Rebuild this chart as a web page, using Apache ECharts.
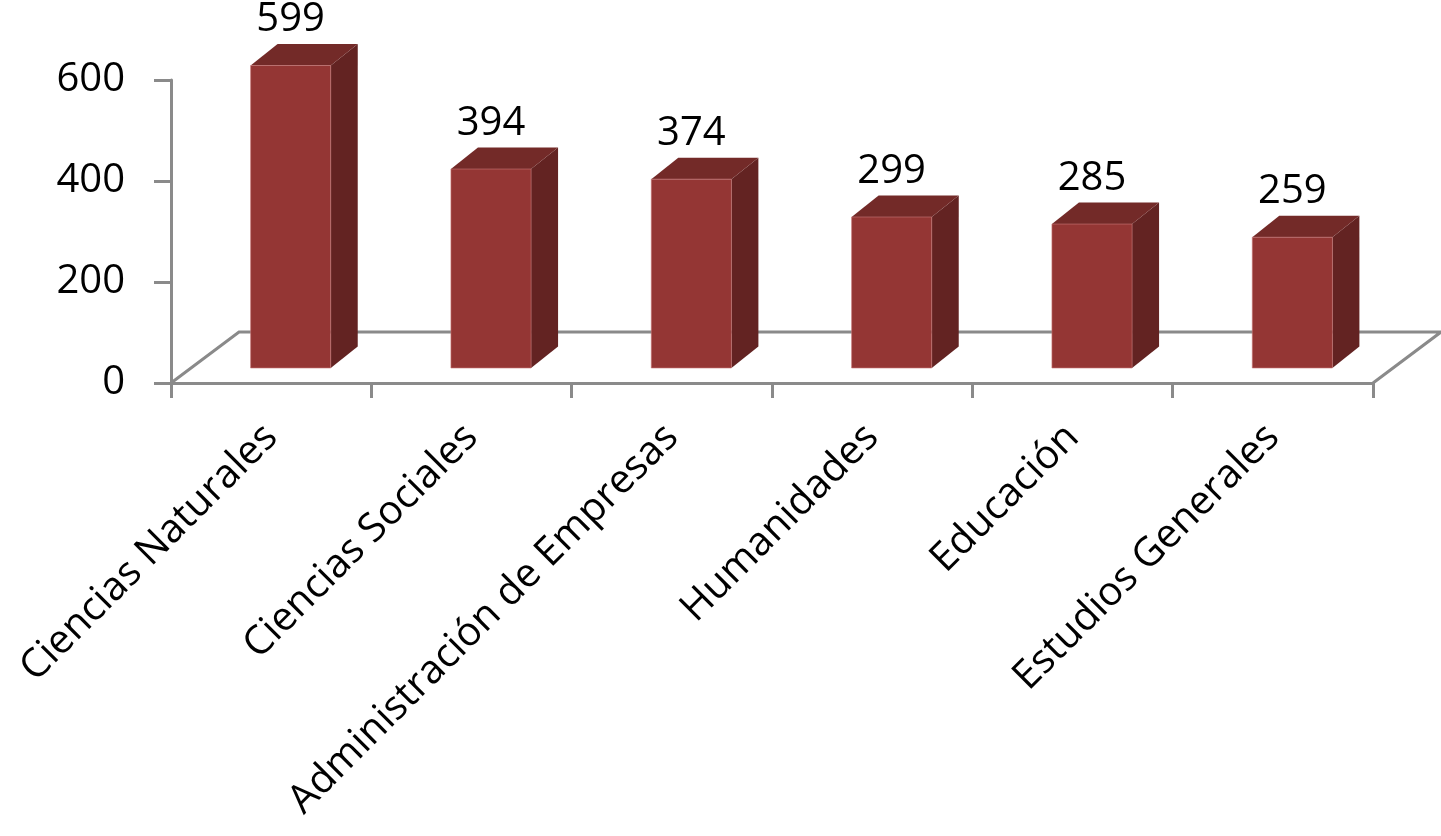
<!DOCTYPE html>
<html>
<head>
<meta charset="utf-8">
<script src="https://cdn.jsdelivr.net/npm/echarts@6/dist/echarts.min.js"></script>
<style>
html,body{margin:0;padding:0;background:#fff;}
#chart{width:1441px;height:836px;}
</style>
</head>
<body>
<div id="chart"></div>
<script>
const categories = ['Ciencias Naturales', 'Ciencias Sociales', 'Administración de Empresas', 'Humanidades', 'Educación', 'Estudios Generales'];
const values = [599, 394, 374, 299, 285, 259];
const yTicks = { min: 0, max: 600, interval: 200 };

const FONT = 'Open Sans';
const AXIS_COLOR = '#8a8a8a';
const FRONT = '#943634', TOP = '#732a28', SIDE = '#632322';
// floor depth offset (px), bar face offset inside floor, bar depth
const FLOOR_DX = 68, FLOOR_DY = -51;
const FACE_DX = 19.5, FACE_DY = -15;
const BAR_DX = 27, BAR_DY = -21.5;

const chart = echarts.init(document.getElementById('chart'), null, { renderer: 'canvas' });

function floorItem(params, api) {
  const cs = params.coordSys;
  const x0 = cs.x, y0 = cs.y + cs.height, x1 = cs.x + cs.width;
  return {
    type: 'polyline',
    shape: { points: [[x0, y0], [x0 + FLOOR_DX, y0 + FLOOR_DY], [x1 + FLOOR_DX, y0 + FLOOR_DY], [x1, y0]] },
    style: { stroke: AXIS_COLOR, lineWidth: 3, fill: null },
    silent: true
  };
}

function barItem(params, api) {
  const i = api.value(0), v = api.value(1);
  const base = api.coord([i, 0]);
  const top = api.coord([i, v]);
  const band = api.size([1, 0])[0];
  const fw = band * 0.4;
  const xl = base[0] - fw / 2 + FACE_DX, xr = xl + fw;
  const yb = base[1] + FACE_DY, yt = top[1] + FACE_DY;
  return {
    type: 'group',
    children: [
      { type: 'polygon', shape: { points: [[xr, yt], [xr + BAR_DX, yt + BAR_DY], [xr + BAR_DX, yb + BAR_DY], [xr, yb]] },
        style: { fill: SIDE } },
      { type: 'polygon', shape: { points: [[xl, yt], [xl + BAR_DX, yt + BAR_DY], [xr + BAR_DX, yt + BAR_DY], [xr, yt]] },
        style: { fill: TOP } },
      { type: 'rect', shape: { x: xl, y: yt, width: fw, height: yb - yt },
        style: { fill: FRONT, stroke: 'rgba(200,120,120,0.6)', lineWidth: 1 } },
      { type: 'text', x: (xl + xr) / 2, y: yt + BAR_DY - 4,
        style: { text: String(v), fill: '#000', font: '40px "' + FONT + '"', align: 'center', verticalAlign: 'bottom' } }
    ]
  };
}

chart.setOption({
  animation: false,
  backgroundColor: '#fff',
  grid: { left: 171, right: 68, top: 80, bottom: 453 },
  xAxis: {
    type: 'category',
    data: categories,
    boundaryGap: true,
    axisLine: { show: true, lineStyle: { color: AXIS_COLOR, width: 3 } },
    axisTick: { show: true, length: 15, lineStyle: { color: AXIS_COLOR, width: 3 } },
    axisLabel: { interval: 0, rotate: 45, margin: 48, color: '#000', fontSize: 40, fontFamily: FONT }
  },
  yAxis: {
    type: 'value',
    min: yTicks.min, max: yTicks.max, interval: yTicks.interval,
    axisLine: { show: true, lineStyle: { color: AXIS_COLOR, width: 3 } },
    axisTick: { show: true, length: 17, lineStyle: { color: AXIS_COLOR, width: 3 } },
    splitLine: { show: false },
    axisLabel: { margin: 46, color: '#000', fontSize: 40, fontFamily: FONT }
  },
  series: [
    { type: 'custom', renderItem: floorItem, data: [[0, 0]], z: 1, silent: true },
    { type: 'custom', renderItem: barItem, data: values.map((v, i) => [i, v]), z: 2 }
  ]
});
</script>
</body>
</html>
